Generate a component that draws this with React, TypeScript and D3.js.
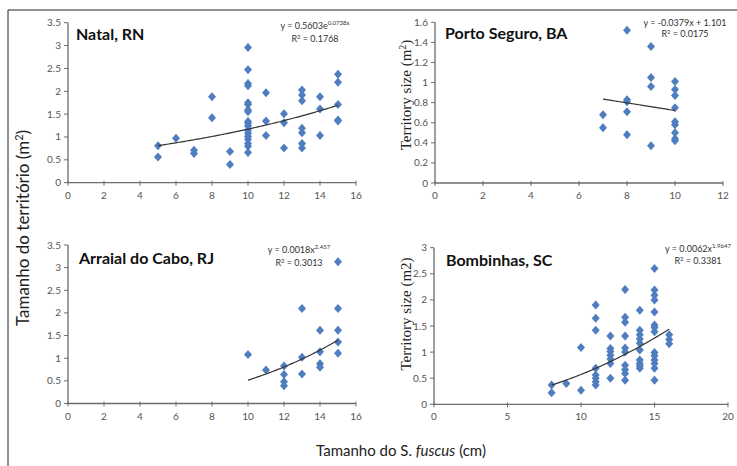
import React from 'react';
import * as d3 from 'd3';

// Natal, RN  [x, y]
const natalPoints: [number, number][] = [
  [5, 0.81], [5, 0.56], [6, 0.97], [7, 0.71], [7, 0.64], [8, 1.88], [8, 1.42],
  [9, 0.68], [9, 0.40],
  [10, 2.96], [10, 2.47], [10, 2.17], [10, 2.12], [10, 1.75], [10, 1.71], [10, 1.59],
  [10, 1.55], [10, 1.34], [10, 1.30], [10, 1.24], [10, 1.15], [10, 1.08], [10, 1.01],
  [10, 0.95], [10, 0.86], [10, 0.80], [10, 0.66],
  [11, 1.97], [11, 1.35], [11, 1.03], [12, 1.51], [12, 1.31], [12, 0.76],
  [13, 2.03], [13, 1.92], [13, 1.79], [13, 1.19], [13, 1.09], [13, 0.86], [13, 0.76],
  [14, 1.88], [14, 1.61], [14, 1.03],
  [15, 2.37], [15, 2.20], [15, 1.71], [15, 1.37], [15, 1.35],
];

// Porto Seguro, BA
const portoPoints: [number, number][] = [
  [7, 0.68], [7, 0.55], [8, 1.52], [8, 0.83], [8, 0.81], [8, 0.71], [8, 0.48],
  [9, 1.36], [9, 1.05], [9, 0.96], [9, 0.37],
  [10, 1.01], [10, 0.93], [10, 0.87], [10, 0.75], [10, 0.61], [10, 0.58], [10, 0.50],
  [10, 0.44], [10, 0.42],
];

// Arraial do Cabo, RJ
const arraialPoints: [number, number][] = [
  [10, 1.08], [11, 0.74], [12, 0.83], [12, 0.64], [12, 0.48], [12, 0.39],
  [13, 2.10], [13, 1.02], [13, 0.65], [14, 1.62], [14, 1.14], [14, 0.88], [14, 0.80],
  [15, 3.13], [15, 2.10], [15, 1.62], [15, 1.36], [15, 1.11],
];

// Bombinhas, SC
const bombinhasPoints: [number, number][] = [
  [8, 0.37], [8, 0.22], [9, 0.40], [10, 1.09], [10, 0.27],
  [11, 1.90], [11, 1.65], [11, 1.42], [11, 0.69], [11, 0.56], [11, 0.50], [11, 0.43], [11, 0.37],
  [12, 1.31], [12, 1.07], [12, 1.01], [12, 0.94], [12, 0.87], [12, 0.78], [12, 0.50],
  [13, 2.20], [13, 1.67], [13, 1.57], [13, 1.31], [13, 1.08], [13, 1.00], [13, 0.75],
  [13, 0.66], [13, 0.59], [13, 0.46],
  [14, 1.80], [14, 1.42], [14, 1.33], [14, 1.25], [14, 1.17], [14, 1.04], [14, 0.85],
  [14, 0.78], [14, 0.74], [14, 0.69],
  [15, 2.60], [15, 2.19], [15, 2.09], [15, 2.00], [15, 1.77], [15, 1.52], [15, 1.47],
  [15, 1.39], [15, 0.99], [15, 0.93], [15, 0.85], [15, 0.78], [15, 0.69], [15, 0.46],
  [16, 1.33], [16, 1.24], [16, 1.16],
];

const ticks16 = [0, 2, 4, 6, 8, 10, 12, 14, 16];
const ticks12 = [0, 2, 4, 6, 8, 10, 12];
const ticks20 = [0, 5, 10, 15, 20];
const yTicks35 = [0, 0.5, 1, 1.5, 2, 2.5, 3, 3.5];
const yTicks16 = [0, 0.2, 0.4, 0.6, 0.8, 1, 1.2, 1.4, 1.6];
const yTicks3 = [0, 0.5, 1, 1.5, 2, 2.5, 3];

const BLUE = '#4f7dbf';
const AXIS = '#6b6b6b';
const TICKTXT = '#555';
const FONT = 'Lato, "Open Sans", sans-serif';
const SERIF = '"Liberation Serif", "DejaVu Serif", serif';

type Panel = {
  title: string;
  points: [number, number][];
  xTicks: number[];
  yTicks: number[];
  xr: [number, number];
  yr: [number, number];
  fit: (x: number) => number;
  fitRange: [number, number];
  eq: React.ReactNode;
  r2: string;
  eqX: number;
  eqY: number;
  eqGap: number;
  titleX: number;
  titleY: number;
};

const panels: Panel[] = [
  {
    title: 'Natal, RN', points: natalPoints, xTicks: ticks16, yTicks: yTicks35,
    xr: [68, 356], yr: [182.7, 22.7],
    fit: x => 0.5603 * Math.exp(0.0738 * x), fitRange: [5, 15],
    eq: <>y = 0.5603e<tspan fontSize="6" dy="-4">0.0738x</tspan></>, r2: '0.1768',
    eqX: 315, eqY: 29, eqGap: 13, titleX: 76, titleY: 40,
  },
  {
    title: 'Porto Seguro, BA', points: portoPoints, xTicks: ticks12, yTicks: yTicks16,
    xr: [435, 723], yr: [183, 22.3],
    fit: x => -0.0379 * x + 1.101, fitRange: [7, 10],
    eq: <>y = -0.0379x + 1.101</>, r2: '0.0175',
    eqX: 685, eqY: 26, eqGap: 11, titleX: 445, titleY: 39,
  },
  {
    title: 'Arraial do Cabo, RJ', points: arraialPoints, xTicks: ticks16, yTicks: yTicks35,
    xr: [68, 356], yr: [403.5, 245],
    fit: x => 0.0018 * Math.pow(x, 2.457), fitRange: [10, 15],
    eq: <>y = 0.0018x<tspan fontSize="6" dy="-4">2.457</tspan></>, r2: '0.3013',
    eqX: 299, eqY: 253, eqGap: 13, titleX: 79, titleY: 264,
  },
  {
    title: 'Bombinhas, SC', points: bombinhasPoints, xTicks: ticks20, yTicks: yTicks3,
    xr: [434, 728], yr: [404.3, 247.7],
    fit: x => 0.0062 * Math.pow(x, 1.9647), fitRange: [8, 16],
    eq: <>y = 0.0062x<tspan fontSize="6" dy="-4">1.9647</tspan></>, r2: '0.3381',
    eqX: 698, eqY: 252, eqGap: 12, titleX: 446, titleY: 266,
  },
];

const diamond = 'M0,-4.5L4,0L0,4.5L-4,0Z';

function ScatterPanel({ p }: { p: Panel }) {
  const xs = d3.scaleLinear().domain([p.xTicks[0], p.xTicks[p.xTicks.length - 1]]).range(p.xr);
  const ys = d3.scaleLinear().domain([p.yTicks[0], p.yTicks[p.yTicks.length - 1]]).range(p.yr);
  const fitXs = d3.range(p.fitRange[0], p.fitRange[1] + 0.001, 0.1);
  const line = d3.line<number>().x(d => xs(d)).y(d => ys(p.fit(d)));
  const x0 = p.xr[0];
  const y0 = p.yr[0];
  return (
    <g>
      {/* axes */}
      <line x1={x0} x2={p.xr[1]} y1={y0} y2={y0} stroke={AXIS} strokeWidth={1.3} />
      <line x1={x0} x2={x0} y1={y0} y2={p.yr[1]} stroke={AXIS} strokeWidth={1.3} />
      {p.xTicks.map(t => (
        <g key={'x' + t}>
          <line x1={xs(t)} x2={xs(t)} y1={y0 - 2} y2={y0 + 3} stroke={AXIS} />
          <text x={xs(t)} y={y0 + 16} textAnchor="middle" fontSize="10" fill={TICKTXT} fontFamily={FONT}>{t}</text>
        </g>
      ))}
      {p.yTicks.map(t => (
        <g key={'y' + t}>
          <line x1={x0 - 4} x2={x0} y1={ys(t)} y2={ys(t)} stroke={AXIS} />
          <text x={x0 - 7} y={ys(t) + 3.5} textAnchor="end" fontSize="10" fill={TICKTXT} fontFamily={FONT}>{t}</text>
        </g>
      ))}
      {/* points */}
      {p.points.map((d, i) => (
        <path key={i} d={diamond} transform={`translate(${xs(d[0])},${ys(d[1])})`} fill={BLUE} />
      ))}
      {/* trend */}
      <path d={line(fitXs) || ''} fill="none" stroke="#333" strokeWidth={1.2} />
      <text x={p.titleX} y={p.titleY} fontSize="16" fontWeight="bold" fill="#111" fontFamily={FONT}>{p.title}</text>
      <text x={p.eqX} y={p.eqY} textAnchor="middle" fontSize="9" fill="#333" fontFamily={FONT}>{p.eq}</text>
      <text x={p.eqX} y={p.eqY + p.eqGap} textAnchor="middle" fontSize="9" fill="#333" fontFamily={FONT}>
        R<tspan fontSize="6" dy="-3">2</tspan><tspan dy="3"> = {p.r2}</tspan>
      </text>
    </g>
  );
}

export default function App() {
  return (
    <svg width={737} height={466} style={{ position: 'absolute', left: 0, top: 0, background: '#fff' }}>
      <rect x={0} y={0} width={737} height={466} fill="#fff" />
      <line x1={8} x2={737} y1={10} y2={10} stroke="#222" strokeWidth={1} />
      <line x1={8} x2={8} y1={10} y2={466} stroke="#222" strokeWidth={1} />
      {panels.map(p => <ScatterPanel key={p.title} p={p} />)}
      <text transform="translate(29,228) rotate(-90)" textAnchor="middle" fontSize="17" fill="#222" fontFamily={FONT}>
        Tamanho do território (m<tspan fontSize="11" dy="-6">2</tspan><tspan dy="6">)</tspan>
      </text>
      <text transform="translate(411,95) rotate(-90)" textAnchor="middle" fontSize="15" fill="#222" fontFamily={SERIF}>
        Territory size (m<tspan fontSize="10" dy="-5">2</tspan><tspan dy="5">)</tspan>
      </text>
      <text transform="translate(411,314) rotate(-90)" textAnchor="middle" fontSize="15" fill="#222" fontFamily={SERIF}>
        Territory size (m2)
      </text>
      <text x={401} y={456} textAnchor="middle" fontSize="15" fill="#222" fontFamily={FONT}>
        Tamanho do <tspan>S. </tspan><tspan fontStyle="italic">fuscus</tspan> (cm)
      </text>
    </svg>
  );
}
